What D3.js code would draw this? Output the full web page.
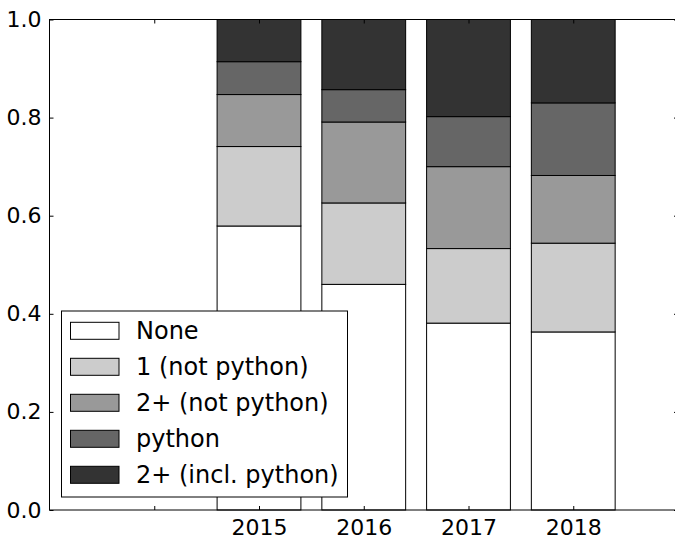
<!DOCTYPE html>
<html>
<head>
<meta charset="utf-8">
<script src="https://cdn.jsdelivr.net/npm/d3@7"></script>
<style>
  html, body { margin: 0; padding: 0; background: #fff; }
  svg { display: block; font-family: "DejaVu Sans", sans-serif; }
</style>
</head>
<body>
<svg id="chart" width="675" height="537"></svg>
<script>
// Years on the x axis (2014 has no responses, so its bar is empty)
const years = [2014, 2015, 2016, 2017, 2018];
const yearLabels = ["", "2015", "2016", "2017", "2018"];

// Share of respondents per group, stacked bottom to top
const seriesNames = ["None", "1 (not python)", "2+ (not python)", "python", "2+ (incl. python)"];
const noneShare      = [0, 0.579, 0.460, 0.381, 0.363];
const oneNotPython   = [0, 0.162, 0.166, 0.152, 0.181];
const twoNotPython   = [0, 0.106, 0.165, 0.167, 0.138];
const pythonOnly     = [0, 0.067, 0.066, 0.102, 0.148];
const twoInclPython  = [0, 0.086, 0.143, 0.198, 0.170];
const seriesColors = ["#ffffff", "#cccccc", "#999999", "#666666", "#333333"];

const yTicks = [0.0, 0.2, 0.4, 0.6, 0.8, 1.0];

const rows = years.map((yr, i) => ({
  year: yr,
  "None": noneShare[i],
  "1 (not python)": oneNotPython[i],
  "2+ (not python)": twoNotPython[i],
  "python": pythonOnly[i],
  "2+ (incl. python)": twoInclPython[i]
}));

const svg = d3.select("#chart");
const plotLeft = 49.5, plotRight = 678, plotTop = 19.5, plotBottom = 510;

const x = d3.scaleLinear().domain([2013, 2019]).range([plotLeft, plotRight]);
const y = d3.scaleLinear().domain([0, 1]).range([plotBottom, plotTop]);
const barW = x(2013.8) - x(2013);

const stack = d3.stack().keys(seriesNames)(rows);

// Stacked bars
const g = svg.append("g");
stack.forEach((layer, k) => {
  g.selectAll(null)
    .data(layer)
    .join("rect")
    .attr("x", d => x(d.data.year) - barW / 2)
    .attr("y", d => y(d[1]))
    .attr("width", barW)
    .attr("height", d => y(d[0]) - y(d[1]))
    .attr("fill", seriesColors[k])
    .attr("stroke", "#000")
    .attr("stroke-width", 1);
});

// Axes: inward ticks on all four sides
const fontSize = 22;
const legendFontSize = 24;
const axisLeft = d3.axisLeft(y).tickValues(yTicks).tickFormat(d3.format(".1f"))
  .tickSizeInner(-4).tickSizeOuter(0).tickPadding(8);
const axisRight = d3.axisRight(y).tickValues(yTicks).tickFormat("")
  .tickSizeInner(-4).tickSizeOuter(0);
const axisBottom = d3.axisBottom(x).tickValues(years).tickFormat((d, i) => yearLabels[i])
  .tickSizeInner(-4).tickSizeOuter(0).tickPadding(9);
const axisTop = d3.axisTop(x).tickValues(years).tickFormat("")
  .tickSizeInner(-4).tickSizeOuter(0);

function style(sel) {
  sel.selectAll(".domain").remove();
  sel.selectAll("line").attr("stroke", "#000").attr("stroke-width", 1);
  sel.selectAll("text").attr("fill", "#000").attr("font-size", fontSize)
    .attr("font-family", "DejaVu Sans, sans-serif");
}

svg.append("g").attr("transform", `translate(${plotLeft},0)`).call(axisLeft).call(style);
svg.append("g").attr("transform", `translate(${plotRight},0)`).call(axisRight).call(style);
svg.append("g").attr("transform", `translate(0,${plotBottom})`).call(axisBottom).call(style)
  .selectAll("text").attr("dy", "0.71em");
svg.append("g").attr("transform", `translate(0,${plotTop})`).call(axisTop).call(style);

// Frame
svg.append("rect")
  .attr("x", plotLeft).attr("y", plotTop)
  .attr("width", plotRight - plotLeft).attr("height", plotBottom - plotTop)
  .attr("fill", "none").attr("stroke", "#000").attr("stroke-width", 1);

// Legend
const lg = svg.append("g");
lg.append("rect")
  .attr("x", 61.5).attr("y", 311)
  .attr("width", 286).attr("height", 186)
  .attr("fill", "#fff").attr("stroke", "#000").attr("stroke-width", 1);
seriesNames.forEach((name, i) => {
  const cy = 330.8 + i * 36;
  lg.append("rect")
    .attr("x", 70.5).attr("y", cy - 8.5)
    .attr("width", 48.5).attr("height", 17)
    .attr("fill", seriesColors[i]).attr("stroke", "#000").attr("stroke-width", 1);
  lg.append("text")
    .attr("x", 136).attr("y", cy + 8)
    .attr("font-size", legendFontSize)
    .attr("fill", "#000")
    .text(name);
});
</script>
</body>
</html>
